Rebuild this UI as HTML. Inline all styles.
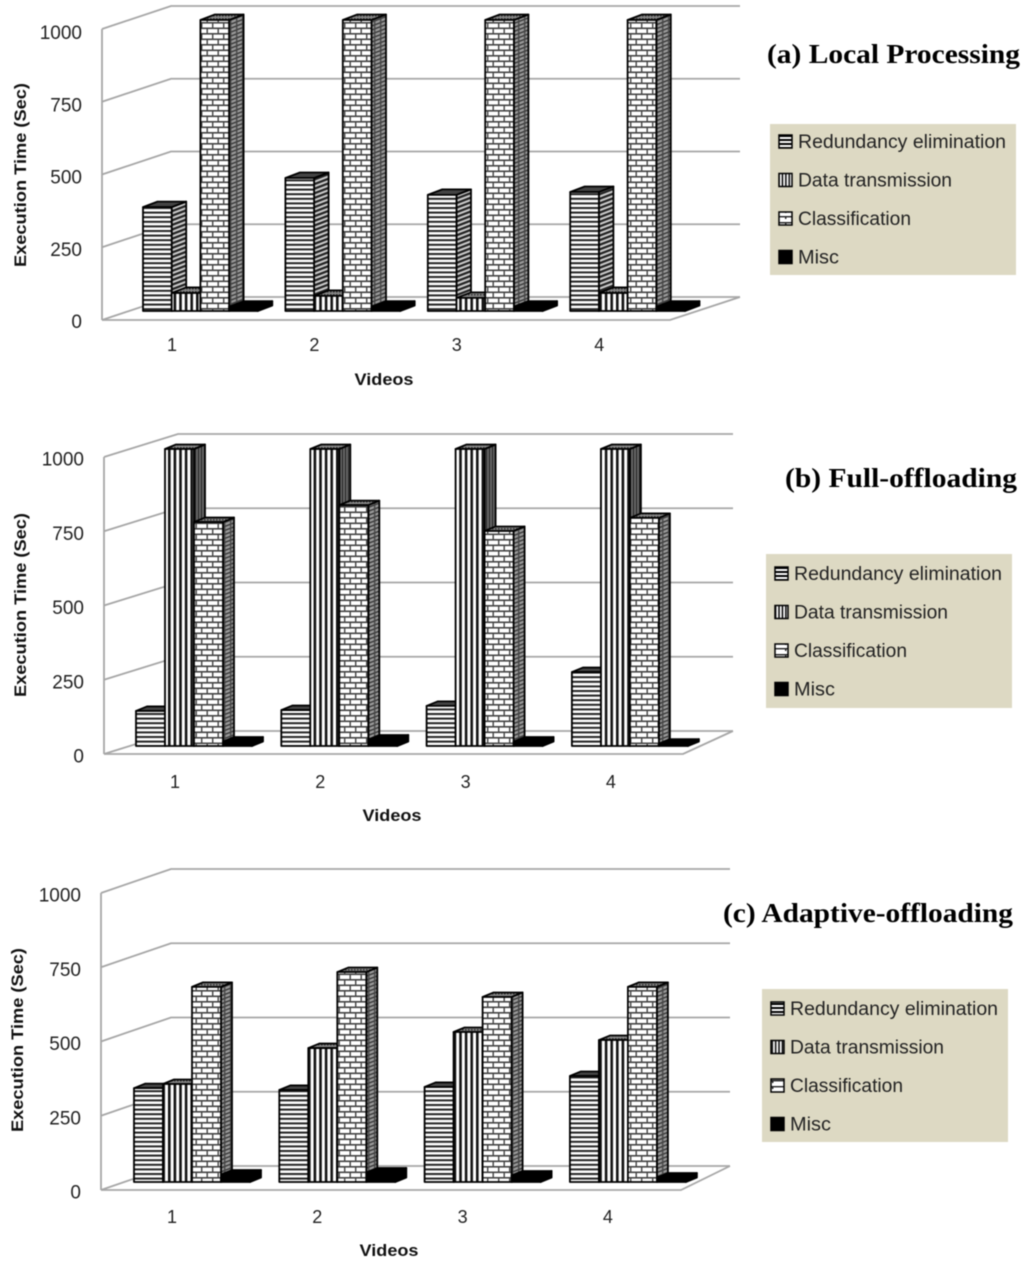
<!DOCTYPE html>
<html lang="en">
<head>
<meta charset="utf-8">
<title>Execution Time Charts</title>
<style>
html,body{margin:0;padding:0;background:#fff;width:1024px;height:1268px;overflow:hidden}
svg{display:block;filter:blur(.45px)}
text{font-family:"Liberation Sans",sans-serif;fill:#222}
.tick{font-size:19px}
.cat{font-size:18px}
.axt{font-size:16.5px;font-weight:bold;fill:#111}
.leg{font-size:19px}
.ttl{font-family:"Liberation Serif",serif;font-weight:bold;font-size:27px;fill:#000}
</style>
</head>
<body>
<svg id="chart" width="1024" height="1268" viewBox="0 0 1024 1268" xmlns="http://www.w3.org/2000/svg">
<defs>
<pattern id="pH" width="8" height="4.6" patternUnits="userSpaceOnUse"><rect width="8" height="4.6" fill="#fff"/><rect width="8" height="2" fill="#222"/></pattern>
<pattern id="pV" width="5.6" height="8" patternUnits="userSpaceOnUse"><rect width="5.6" height="8" fill="#fff"/><rect width="2.6" height="8" fill="#111"/></pattern>
<pattern id="pB" width="22" height="11" patternUnits="userSpaceOnUse"><rect width="22" height="11" fill="#fff"/><rect y="0" width="22" height="1.6" fill="#444"/><rect y="5.5" width="22" height="1.6" fill="#444"/><rect x="3" y="0" width="1.4" height="5.5" fill="#444"/><rect x="14" y="0" width="1.4" height="5.5" fill="#444"/><rect x="8.5" y="5.5" width="1.4" height="5.5" fill="#444"/><rect x="19.5" y="5.5" width="1.4" height="5.5" fill="#444"/></pattern>
<pattern id="sH" width="8" height="4.6" patternUnits="userSpaceOnUse" patternTransform="skewY(-21)"><rect width="8" height="4.6" fill="#ccc"/><rect width="8" height="2.4" fill="#222"/></pattern>
<pattern id="sV" width="3" height="8" patternUnits="userSpaceOnUse"><rect width="3" height="8" fill="#666"/><rect width="1" height="8" fill="#222"/></pattern>
<pattern id="sB" width="6" height="4" patternUnits="userSpaceOnUse" patternTransform="skewY(-21)"><rect width="6" height="4" fill="#999"/><rect width="6" height="1.4" fill="#333"/><rect x="2" width="1.4" height="4" fill="#444"/></pattern>
<pattern id="tD" width="3" height="3" patternUnits="userSpaceOnUse"><rect width="3" height="3" fill="#888"/><rect width="1.6" height="1.6" fill="#333"/></pattern>
<pattern id="lH" width="13" height="4" patternUnits="userSpaceOnUse"><rect width="13" height="4" fill="#000"/><rect y="1" width="13" height="2" fill="#fff"/></pattern>
<pattern id="lV" width="3.4" height="13" patternUnits="userSpaceOnUse"><rect width="3.4" height="13" fill="#000"/><rect x="1.2" width="1.9" height="13" fill="#fff"/></pattern>
<pattern id="lB" width="13" height="6" patternUnits="userSpaceOnUse"><rect width="13" height="6" fill="#fff"/><rect width="13" height="1.4" fill="#222"/><rect x="5" width="1.4" height="3" fill="#222"/></pattern>
</defs>
</svg>
<script>
var categories = ['1', '2', '3', '4'];
var tickLabels = [0, 250, 500, 750, 1000];
var seriesNames = ['Redundancy elimination', 'Data transmission', 'Classification', 'Misc'];

var localRedundancy = [357, 457, 399, 409];
var localTransmission = [62, 52, 45, 62];
var localClassification = [1000, 1000, 1000, 1000];
var localMisc = [15, 15, 15, 15];

var fullRedundancy = [118, 121, 135, 249];
var fullTransmission = [1000, 1000, 1000, 1000];
var fullClassification = [754, 811, 724, 768];
var fullMisc = [15, 22, 15, 8];

var adaptiveRedundancy = [316, 310, 320, 357];
var adaptiveTransmission = [330, 451, 505, 478];
var adaptiveClassification = [657, 707, 623, 657];
var adaptiveMisc = [25, 32, 22, 15];

var svg = document.getElementById('chart');
var NS = 'http://www.w3.org/2000/svg';
var GRID = '#a6a6a6';

function make(parent, tag, attrs, txt) {
  var el = document.createElementNS(NS, tag);
  for (var k in attrs) el.setAttribute(k, attrs[k]);
  if (txt !== undefined) el.textContent = txt;
  parent.appendChild(el);
  return el;
}

function drawChart(cfg, series) {
  var g = make(svg, 'g', {});
  
  

  function yFront(v) { return cfg.y0 - v / 1000 * cfg.h; }
  function yLabel(v) { return cfg.tickY0 - v / 1000 * cfg.tickH; }
  function yBar(v) { return cfg.barBase - v / 1000 * cfg.h; }
  function xBar(c, s) { return cfg.barX + c * cfg.step + s * cfg.barW; }

  tickLabels.forEach(function (t) {
    var y = yFront(t);
    var bx = cfg.x0 + cfg.wallDx, by = y - cfg.wallDy;
    var grid = make(g, 'polyline', {points: cfg.x0 + ',' + y + ' ' + bx + ',' + by + ' ' + cfg.xBackEnd + ',' + by, fill: 'none', stroke: GRID, 'stroke-width': 1.8});
    
    
    var label = make(g, 'text', {x: cfg.tickX, y: yLabel(t) + 7, 'text-anchor': 'end', 'class': 'tick'}, String(t));
    
    
  });

  var axisY = make(g, 'line', {x1: cfg.x0, y1: yFront(1000), x2: cfg.x0, y2: cfg.y0, stroke: GRID, 'stroke-width': 1.8});
  
  
  var floor = make(g, 'polyline', {points: cfg.x0 + ',' + cfg.y0 + ' ' + cfg.xFrontEnd + ',' + cfg.y0 + ' ' + cfg.xBackEnd + ',' + (cfg.y0 - cfg.wallDy), fill: 'none', stroke: GRID, 'stroke-width': 1.8});
  
  

  var fronts = ['url(#pH)', 'url(#pV)', 'url(#pB)', '#000'];
  var sides = ['url(#sH)', 'url(#sV)', 'url(#sB)', '#000'];
  var tops = ['#444', 'url(#tD)', 'url(#tD)', '#000'];
  var dx = cfg.depthX, dy = cfg.depthY;

  categories.forEach(function (cat, c) {
    series.forEach(function (values, s) {
      var x = xBar(c, s), w = cfg.barW, yT = yBar(values[c]), yB = cfg.barBase;
      var bar = make(g, 'g', {});
      
      
      var st = {stroke: '#000', 'stroke-width': 1.8, 'stroke-linejoin': 'round'};
      make(bar, 'polygon', Object.assign({points: (x + w) + ',' + yT + ' ' + (x + w + dx) + ',' + (yT - dy) + ' ' + (x + w + dx) + ',' + (yB - dy) + ' ' + (x + w) + ',' + yB, fill: sides[s]}, st));
      make(bar, 'polygon', Object.assign({points: x + ',' + yT + ' ' + (x + dx) + ',' + (yT - dy) + ' ' + (x + w + dx) + ',' + (yT - dy) + ' ' + (x + w) + ',' + yT, fill: tops[s]}, st));
      make(bar, 'rect', Object.assign({x: x, y: yT, width: w, height: yB - yT, fill: fronts[s]}, st));
    });
    var catLabel = make(g, 'text', {x: cfg.catX + c * cfg.step, y: cfg.catY, 'text-anchor': 'middle', 'class': 'cat'}, cat);
    
    
  });

  var yTitle = make(g, 'text', {transform: 'translate(' + cfg.yTitleX + ',' + cfg.yTitleY + ') rotate(-90)', 'text-anchor': 'middle', 'class': 'axt', textLength: 184, lengthAdjust: 'spacingAndGlyphs'}, 'Execution Time (Sec)');
  
  
  var xTitle = make(g, 'text', {x: cfg.xTitleX, y: cfg.xTitleY, 'text-anchor': 'middle', 'class': 'axt', textLength: 59, lengthAdjust: 'spacingAndGlyphs'}, 'Videos');
  
  

  var title = make(g, 'text', {x: cfg.titleX, y: cfg.titleY, 'class': 'ttl', textLength: cfg.titleW, lengthAdjust: 'spacingAndGlyphs'}, cfg.title);
  
  

  var legend = make(g, 'g', {});
  
  
  make(legend, 'rect', {x: cfg.legX, y: cfg.legY, width: 246, height: cfg.legH, fill: '#ddd9c3'});
  var swatches = ['url(#lH)', 'url(#lV)', 'url(#lB)', '#000'];
  var lens = [208, 154, 113, 41];
  seriesNames.forEach(function (name, i) {
    var cy = cfg.legRow0 + i * cfg.legRowStep;
    var entry = make(legend, 'g', {});
    
    
    make(entry, 'rect', {x: cfg.legX + 9, y: cy - 6, width: 13, height: 13, fill: swatches[i], stroke: '#000', 'stroke-width': 1.5});
    make(entry, 'text', {x: cfg.legX + 28, y: cy + 7, 'class': 'leg', textLength: lens[i], lengthAdjust: 'spacingAndGlyphs'}, name);
  });
}

drawChart({key: 'local-processing', title: '(a) Local Processing', titleX: 767, titleY: 63, titleW: 253,
  x0: 102, y0: 320, h: 291, wallDx: 69, wallDy: 23, xBackEnd: 740, xFrontEnd: 670,
  barBase: 311, barX: 143, step: 142.4, barW: 28.7, depthX: 14.5, depthY: 5.5,
  tickX: 82, tickY0: 321, tickH: 289, catX: 172, catY: 351,
  yTitleX: 26, yTitleY: 175, xTitleX: 384, xTitleY: 385,
  legX: 770, legY: 124, legH: 151, legRow0: 141, legRowStep: 38.5},
  [localRedundancy, localTransmission, localClassification, localMisc]);

drawChart({key: 'full-offloading', title: '(b) Full-offloading', titleX: 785, titleY: 487, titleW: 232,
  x0: 104, y0: 754, h: 297, wallDx: 74, wallDy: 23, xBackEnd: 733, xFrontEnd: 683,
  barBase: 746, barX: 136, step: 145.3, barW: 29, depthX: 11, depthY: 4.5,
  tickX: 84, tickY0: 755.5, tickH: 297, catX: 175, catY: 788,
  yTitleX: 26, yTitleY: 605, xTitleX: 392, xTitleY: 821,
  legX: 766, legY: 554, legH: 154, legRow0: 573, legRowStep: 38.5},
  [fullRedundancy, fullTransmission, fullClassification, fullMisc]);

drawChart({key: 'adaptive-offloading', title: '(c) Adaptive-offloading', titleX: 723, titleY: 922, titleW: 290,
  x0: 101, y0: 1190, h: 297, wallDx: 70, wallDy: 24, xBackEnd: 730, xFrontEnd: 681,
  barBase: 1182, barX: 134, step: 145.3, barW: 29, depthX: 11, depthY: 4.5,
  tickX: 81, tickY0: 1191.5, tickH: 297, catX: 172, catY: 1223,
  yTitleX: 23, yTitleY: 1040, xTitleX: 389, xTitleY: 1256,
  legX: 762, legY: 989, legH: 153, legRow0: 1008, legRowStep: 38.5},
  [adaptiveRedundancy, adaptiveTransmission, adaptiveClassification, adaptiveMisc]);
</script>
</body>
</html>
